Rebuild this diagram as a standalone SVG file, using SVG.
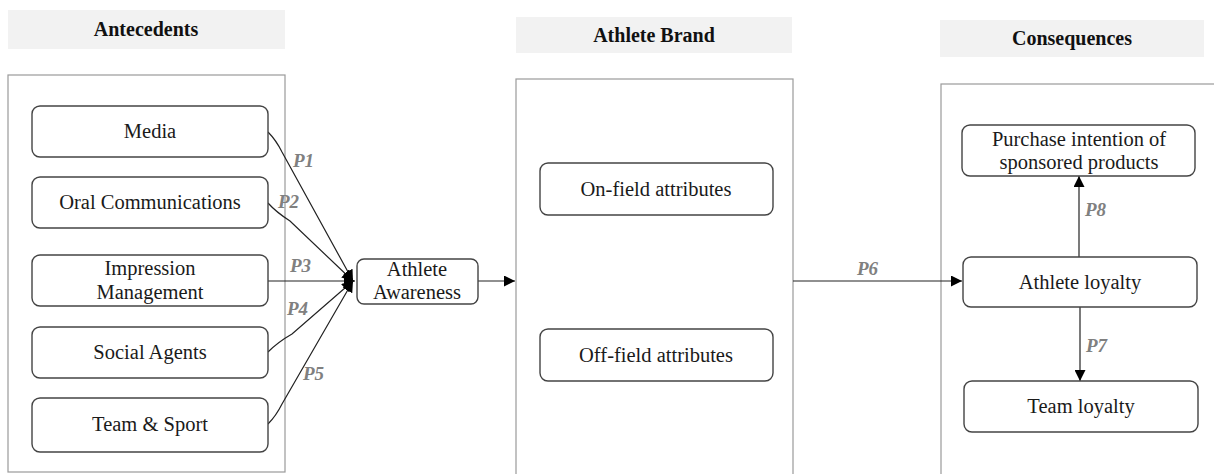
<svg xmlns="http://www.w3.org/2000/svg" width="1214" height="474" viewBox="0 0 1214 474">
<style>
.hdr{fill:#f2f2f2;stroke:none}
.hdrt{font-family:"Liberation Serif",serif;font-weight:bold;font-size:20px;fill:#111;text-anchor:middle}
.cont{fill:#fff;stroke:#9a9a9a;stroke-width:1.2}
.node{fill:#fff;stroke:#444;stroke-width:1.4}
.nt{font-family:"Liberation Serif",serif;font-size:20.5px;fill:#1a1a1a;text-anchor:middle}
.pl{font-family:"Liberation Serif",serif;font-size:19px;font-style:italic;font-weight:bold;fill:#808080}
.ln{fill:none;stroke:#222;stroke-width:1.2}
</style>
<defs>
<marker id="ah" viewBox="0 0 10 10" refX="10" refY="5" markerWidth="11" markerHeight="11" markerUnits="userSpaceOnUse" orient="auto">
<path d="M0,0 L10,5 L0,10 z" fill="#000"/>
</marker>
</defs>
<rect width="1214" height="474" fill="#fff"/>

<g id="antecedents">
<rect class="hdr" x="8" y="10" width="277" height="39"/>
<text class="hdrt" x="146" y="36">Antecedents</text>
<rect class="cont" x="8" y="75" width="277" height="397"/>
</g>
<g id="athlete-brand">
<rect class="hdr" x="516" y="17" width="276" height="36"/>
<text class="hdrt" x="654" y="42">Athlete Brand</text>
<rect class="cont" x="516" y="79" width="277" height="400"/>
</g>
<g id="consequences">
<rect class="hdr" x="940" y="20" width="264" height="37"/>
<text class="hdrt" x="1072" y="45">Consequences</text>
<rect class="cont" x="941" y="84" width="280" height="400"/>
</g>

<g id="connectors">
<path class="ln" d="M268,132 Q276,140 282,152 L353,281" marker-end="url(#ah)"/>
<path class="ln" d="M268,203 Q276,212 290,221 L353,281" marker-end="url(#ah)"/>
<path class="ln" d="M268,281 L355,281" marker-end="url(#ah)"/>
<path class="ln" d="M268,352 Q278,342 292,334 L353,281" marker-end="url(#ah)"/>
<path class="ln" d="M268,424 Q276,416 282,404 L353,281" marker-end="url(#ah)"/>
<path class="ln" d="M478,281 L515,281" marker-end="url(#ah)"/>
<path class="ln" d="M793,281 L962,281" marker-end="url(#ah)"/>
<path class="ln" d="M1079,257 L1079,176" marker-end="url(#ah)"/>
<path class="ln" d="M1080,307 L1080,381" marker-end="url(#ah)"/>
<text class="pl" x="293" y="167">P1</text>
<text class="pl" x="278" y="208">P2</text>
<text class="pl" x="290" y="272">P3</text>
<text class="pl" x="287" y="315">P4</text>
<text class="pl" x="303" y="380">P5</text>
<text class="pl" x="857" y="275">P6</text>
<text class="pl" x="1086" y="352">P7</text>
<text class="pl" x="1085" y="216">P8</text>
</g>

<g id="media"><rect class="node" x="32" y="106" width="236" height="51" rx="8"/><text class="nt" x="150" y="138">Media</text></g>
<g id="oral"><rect class="node" x="32" y="177" width="236" height="51" rx="8"/><text class="nt" x="150" y="209">Oral Communications</text></g>
<g id="impression"><rect class="node" x="32" y="255" width="236" height="51" rx="8"/><text class="nt" x="150" y="275">Impression</text><text class="nt" x="150" y="299">Management</text></g>
<g id="social"><rect class="node" x="32" y="327" width="236" height="51" rx="8"/><text class="nt" x="150" y="359">Social Agents</text></g>
<g id="team-sport"><rect class="node" x="32" y="398" width="236" height="54" rx="8"/><text class="nt" x="150" y="431">Team &amp; Sport</text></g>
<g id="awareness"><rect class="node" x="357" y="259" width="121" height="45" rx="7"/><text class="nt" x="417" y="276">Athlete</text><text class="nt" x="417" y="299">Awareness</text></g>
<g id="onfield"><rect class="node" x="540" y="163" width="233" height="52" rx="8"/><text class="nt" x="656" y="196">On-field attributes</text></g>
<g id="offfield"><rect class="node" x="540" y="329" width="233" height="52" rx="8"/><text class="nt" x="656" y="362">Off-field attributes</text></g>
<g id="purchase"><rect class="node" x="962" y="125" width="233" height="51" rx="8"/><text class="nt" x="1079" y="146">Purchase intention of</text><text class="nt" x="1079" y="169">sponsored products</text></g>
<g id="athlete-loyalty"><rect class="node" x="963" y="257" width="234" height="50" rx="8"/><text class="nt" x="1080" y="289">Athlete loyalty</text></g>
<g id="team-loyalty"><rect class="node" x="964" y="381" width="234" height="51" rx="8"/><text class="nt" x="1081" y="413">Team loyalty</text></g>
</svg>
